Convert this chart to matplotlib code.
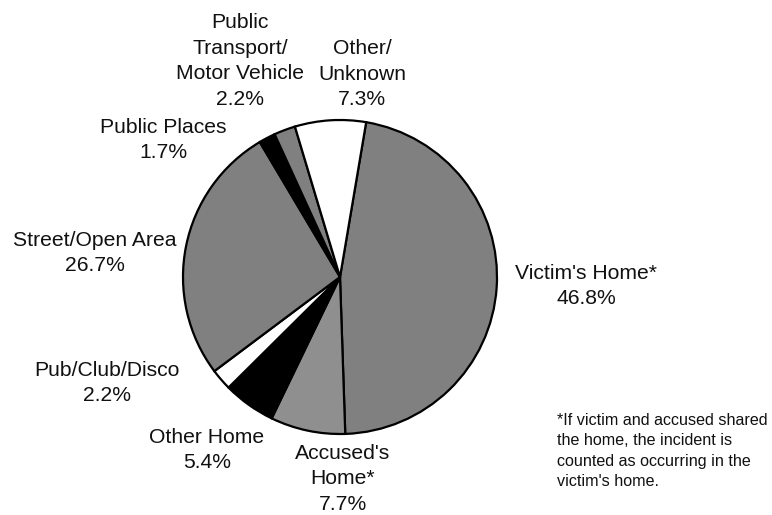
import matplotlib
matplotlib.use("Agg")
import matplotlib.pyplot as plt

plt.rcParams['font.family'] = ['Liberation Sans', 'DejaVu Sans']

categories = ["Victim's Home*", "Accused's\nHome*", "Other Home", "Pub/Club/Disco",
              "Street/Open Area", "Public Places", "Public\nTransport/\nMotor Vehicle",
              "Other/\nUnknown"]
values = [46.8, 7.7, 5.4, 2.2, 26.7, 1.7, 2.2, 7.3]
colors = ["#808080", "#8f8f8f", "#000000", "#ffffff", "#808080", "#000000", "#808080", "#ffffff"]
footnote = ("*If victim and accused shared\nthe home, the incident is\n"
            "counted as occurring in the\nvictim's home.")

# label centres in pixel coordinates (x, y from top)
label_pos = [(586, 286), (343, 479), (207, 450), (107, 383),
             (95, 253), (163, 140), (240, 61), (362, 74)]

W, H = 772, 515
fig = plt.figure(figsize=(W / 100, H / 100), dpi=100)
ax = fig.add_axes([0, 0, 1, 1])
ax.set_xlim(0, W)
ax.set_ylim(0, H)
ax.set_aspect('equal')
ax.axis('off')

ax.pie(values, colors=colors, startangle=80.4, counterclock=False,
       center=(340, H - 277), radius=157,
       wedgeprops=dict(edgecolor='black', linewidth=1.6))
ax.set_xlim(0, W)
ax.set_ylim(0, H)

for cat, val, (x, y) in zip(categories, values, label_pos):
    ax.text(x, H - y, f"{cat}\n{val:.1f}%", ha='center', va='center',
            fontsize=15.2, linespacing=1.45, color='#111111')

ax.text(557, H - 451, footnote, ha='left', va='center', fontsize=11.6,
        linespacing=1.43, color='#111111')

fig.savefig("out.png", dpi=100)
